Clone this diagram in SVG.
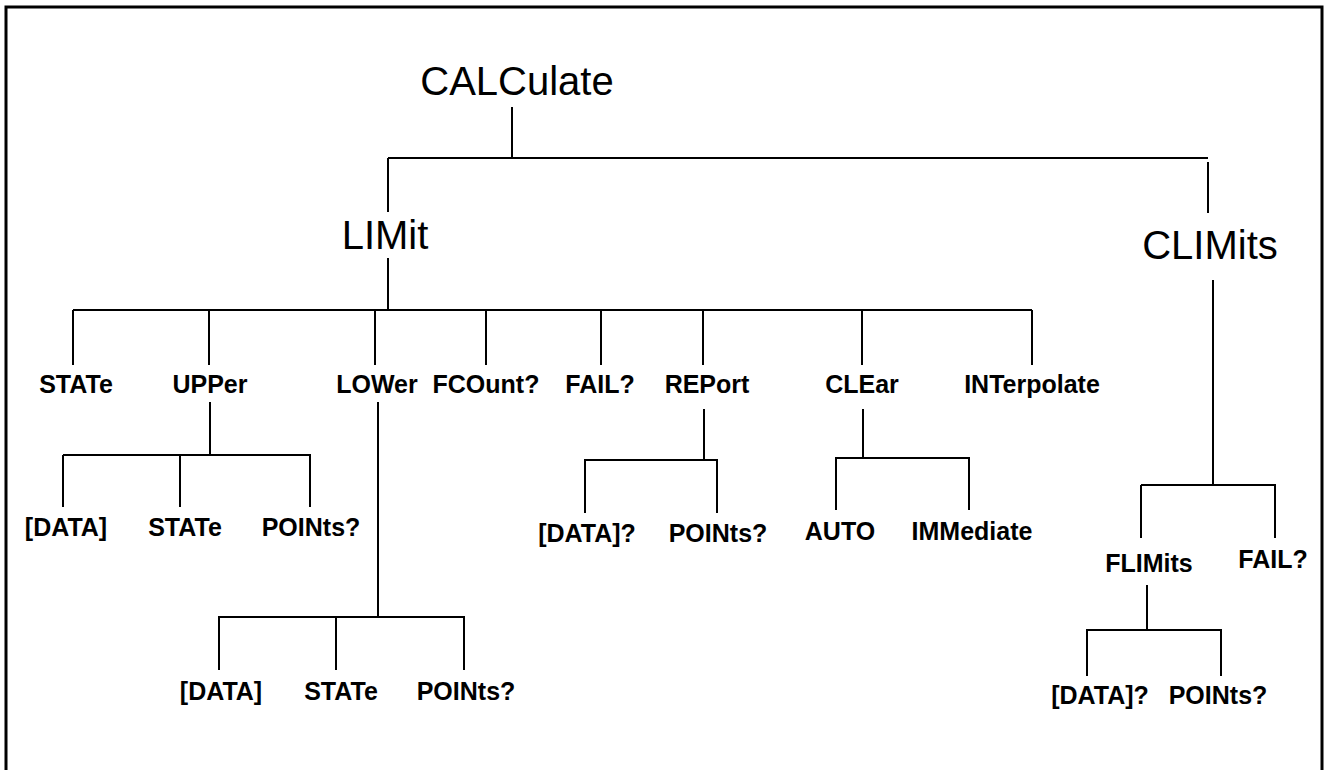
<svg xmlns="http://www.w3.org/2000/svg" width="1327" height="770" viewBox="0 0 1327 770">
<style>
.big{font-family:"Liberation Sans",Arial,sans-serif;font-size:40px;fill:#000;text-anchor:middle}
.lbl{font-family:"Liberation Sans",Arial,sans-serif;font-size:25px;font-weight:bold;fill:#000;text-anchor:middle}
.ln{stroke:#000;stroke-width:2;fill:none}
.frame{stroke:#000;stroke-width:3;fill:none}
</style>
<rect width="1327" height="770" fill="#fff"/>
<path class="frame" d="M6,770 V7 H1322 V770"/>
<g id="connectors">
<path class="ln" d="M512,107 V158 M388,158 H1208 M388,158 V212 M1208,162 V213"/>
<path class="ln" d="M388,258 V310 M73,310 H1032 M73,310 V365 M209,310 V365 M375,310 V365 M486,310 V365 M601,310 V365 M703,310 V365 M862,310 V365 M1032,310 V365"/>
<path class="ln" d="M210,402 V455 M63,455 H311 M63,455 V507 M180,455 V507 M310,455 V507"/>
<path class="ln" d="M378,402 V617 M218,617 H465 M219,617 V670 M336,617 V670 M464,617 V670"/>
<path class="ln" d="M704,409 V460 M584,460 H718 M585,460 V513 M717,460 V513"/>
<path class="ln" d="M863,409 V458 M835,458 H970 M836,458 V510 M969,458 V510"/>
<path class="ln" d="M1213,280 V485 M1141,485 H1276 M1141,485 V538 M1275,485 V538"/>
<path class="ln" d="M1147,585 V630 M1086,630 H1222 M1087,630 V676 M1221,630 V676"/>
</g>
<g id="calculate"><text class="big" x="517" y="95">CALCulate</text></g>
<g id="limit"><text class="big" x="385" y="249">LIMit</text></g>
<g id="climits"><text class="big" x="1210" y="259">CLIMits</text></g>
<g id="state1"><text class="lbl" x="76" y="393">STATe</text></g>
<g id="upper"><text class="lbl" x="210" y="393">UPPer</text></g>
<g id="lower"><text class="lbl" x="377" y="393">LOWer</text></g>
<g id="fcount"><text class="lbl" x="486" y="393">FCOunt?</text></g>
<g id="fail1"><text class="lbl" x="600" y="393">FAIL?</text></g>
<g id="report"><text class="lbl" x="707" y="393">REPort</text></g>
<g id="clear"><text class="lbl" x="862" y="393">CLEar</text></g>
<g id="interpolate"><text class="lbl" x="1032" y="393">INTerpolate</text></g>
<g id="upper-data"><text class="lbl" x="66" y="536">[DATA]</text></g>
<g id="upper-state"><text class="lbl" x="185" y="536">STATe</text></g>
<g id="upper-points"><text class="lbl" x="311" y="536">POINts?</text></g>
<g id="lower-data"><text class="lbl" x="221" y="700">[DATA]</text></g>
<g id="lower-state"><text class="lbl" x="341" y="700">STATe</text></g>
<g id="lower-points"><text class="lbl" x="466" y="700">POINts?</text></g>
<g id="report-data"><text class="lbl" x="587" y="542">[DATA]?</text></g>
<g id="report-points"><text class="lbl" x="718" y="542">POINts?</text></g>
<g id="clear-auto"><text class="lbl" x="840" y="540">AUTO</text></g>
<g id="clear-imm"><text class="lbl" x="972" y="540">IMMediate</text></g>
<g id="flimits"><text class="lbl" x="1149" y="572">FLIMits</text></g>
<g id="fail2"><text class="lbl" x="1273" y="568">FAIL?</text></g>
<g id="flimits-data"><text class="lbl" x="1100" y="704">[DATA]?</text></g>
<g id="flimits-points"><text class="lbl" x="1218" y="704">POINts?</text></g>
</svg>
